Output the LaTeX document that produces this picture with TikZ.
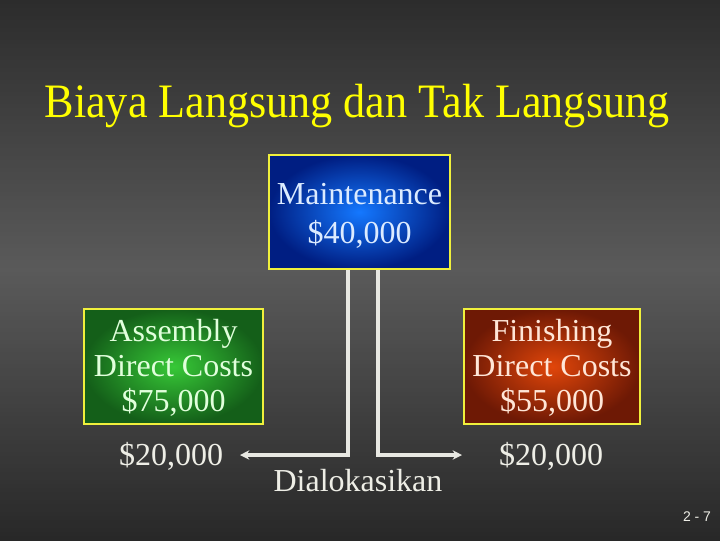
\documentclass[tikz,border=0pt]{standalone}
\usepackage{fontspec}
\setmainfont{Liberation Serif}
\newfontfamily\pgnumfont{Liberation Sans}
\usetikzlibrary{arrows.meta}
\definecolor{bgtop}{RGB}{44,44,44}
\definecolor{bgmid}{RGB}{90,90,90}
\definecolor{bgbot}{RGB}{40,40,40}
\definecolor{titleyellow}{RGB}{255,255,0}
\definecolor{boxborder}{RGB}{240,240,60}
\definecolor{linegray}{RGB}{232,232,226}
\definecolor{blueIn}{RGB}{20,120,255}
\definecolor{blueOut}{RGB}{0,30,130}
\definecolor{greenIn}{RGB}{55,200,55}
\definecolor{greenOut}{RGB}{20,95,25}
\definecolor{redIn}{RGB}{225,70,10}
\definecolor{redOut}{RGB}{110,25,5}
\definecolor{bluetext}{RGB}{220,235,255}
\definecolor{greentext}{RGB}{225,255,220}
\definecolor{redtext}{RGB}{255,230,215}
\definecolor{labeltext}{RGB}{238,238,230}
\tikzset{
  costbox/.style={draw=boxborder, line width=2.2pt, shading=radial, align=center,
    inner sep=0pt, font=\fontsize{24}{26}\selectfont},
  boxtext/.style={align=center, inner sep=0pt, font=\fontsize{24}{26}\selectfont},
  conn/.style={draw=linegray, line width=2.3pt},
  tip/.style={-{Stealth[length=7pt,width=7pt]}},
  lbl/.style={text=labeltext, font=\fontsize{24}{26}\selectfont, inner sep=0pt},
}
\begin{document}
\begin{tikzpicture}[x=0.75pt,y=-0.75pt]
\path[use as bounding box] (0,0) rectangle (720,540);
\foreach \i in {0,...,134}{
  \pgfmathsetmacro{\tt}{(\i+0.5)/135}
  \pgfmathsetmacro{\pa}{min(100,\tt*2*100)}
  \pgfmathsetmacro{\pb}{max(0,(\tt-0.5)*2*100)}
  \ifdim\tt pt<0.5pt
    \colorlet{bandcol}{bgmid!\pa!bgtop}
  \else
    \colorlet{bandcol}{bgbot!\pb!bgmid}
  \fi
  \fill[bandcol] (0,\i*4) rectangle (720,\i*4+5);
}
\node[text=titleyellow, font=\fontsize{36}{40}\selectfont, inner sep=0pt] (title) at (357,106) {\scalebox{0.92}[1]{Biaya Langsung dan Tak Langsung}};
\node[costbox, inner color=blueIn, outer color=blueOut,
  minimum width=181*0.75pt, minimum height=114*0.75pt] (maint) at (359.5,212) {};
\node[boxtext, text=bluetext, font=\fontsize{24}{29}\selectfont] (mainttext) at (359.5,216) {Maintenance\\\$40,000};
\node[costbox, inner color=greenIn, outer color=greenOut,
  minimum width=179*0.75pt, minimum height=115*0.75pt] (asm) at (173.5,366.5) {};
\node[boxtext, text=greentext] (asmtext) at (173.5,368) {Assembly\\Direct Costs\\\$75,000};
\node[costbox, inner color=redIn, outer color=redOut,
  minimum width=176*0.75pt, minimum height=115*0.75pt] (fin) at (552,366.5) {};
\node[boxtext, text=redtext] (fintext) at (552,368) {Finishing\\Direct Costs\\\$55,000};
\node[lbl] (leftamt) at (171,456) {\$20,000};
\node[lbl] (rightamt) at (551,456) {\$20,000};
\node[lbl] (alloc) at (358,481) {Dialokasikan};
\node[text=labeltext, font=\pgnumfont\fontsize{10.5}{12}\selectfont, inner sep=0pt] (pg) at (697,517) {2 - 7};
\coordinate (v1) at (348,455);
\coordinate (v2) at (378,455);
\coordinate (la) at (240,455);
\coordinate (ra) at (462,455);
\draw[conn, tip] (maint.south -| v1) -- (v1) -- (la);
\draw[conn, tip] (maint.south -| v2) -- (v2) -- (ra);
\end{tikzpicture}
\end{document}
